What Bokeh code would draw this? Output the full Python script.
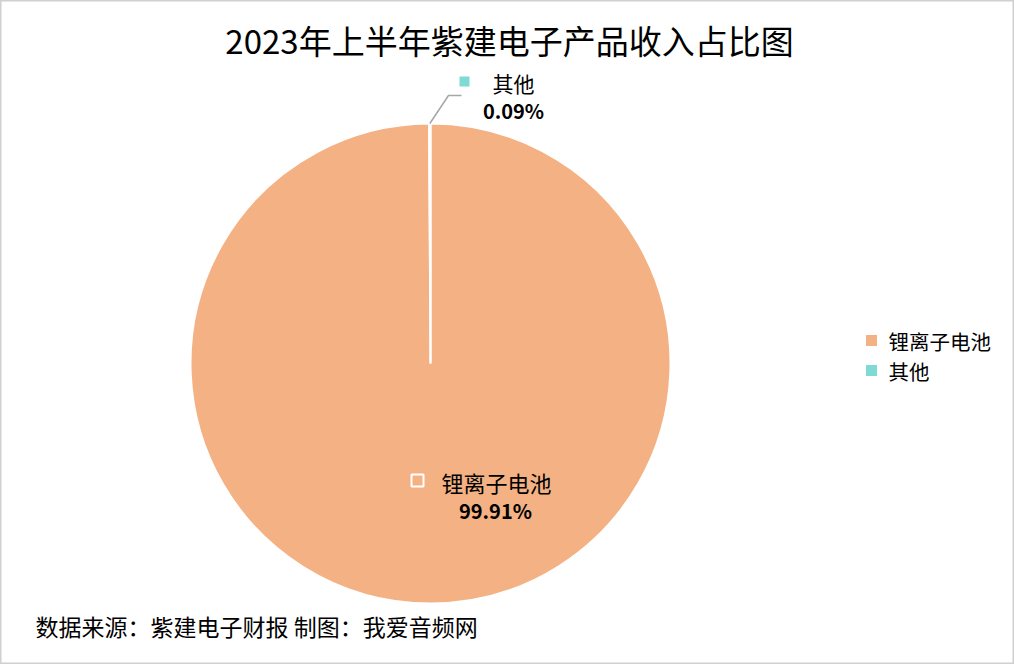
import math
from bokeh.plotting import figure
from bokeh.models import Range1d, ColumnDataSource
from bokeh.core.properties import value
from bokeh.embed import file_html
from bokeh.resources import INLINE

# ---- data ----
categories = ["锂离子电池", "其他"]
shares = [99.91, 0.09]
colors = ["#F4B183", "#7FD9D4"]
title_text = "2023年上半年紫建电子产品收入占比图"
source_text = "数据来源：紫建电子财报 制图：我爱音频网"

W, H = 1014, 664
FONT = "Noto Sans CJK SC"

def sy(y):  # screen y -> data y
    return H - y

p = figure(width=W, height=H, output_backend="svg", toolbar_location=None,
           x_range=Range1d(0, W), y_range=Range1d(0, H), min_border=0)
p.axis.visible = False
p.grid.visible = False
p.outline_line_color = "#D0D0D0"
p.outline_line_width = 2
p.background_fill_color = "white"
p.border_fill_color = "white"

# pie
cx, cy, R = 430, sy(363), 240
total = sum(shares)
starts, ends = [], []
a = math.pi / 2
for s in shares:
    starts.append(a)
    a = a - 2 * math.pi * s / total
    ends.append(a)
src = ColumnDataSource(dict(cat=categories, start=starts, end=ends, color=colors))
p.wedge(x=cx, y=cy, radius=R, radius_units="screen", start_angle="start", end_angle="end",
        direction="clock", fill_color="color", line_color="white", line_width=2, source=src)

# leader line for small slice
mid = (starts[1] + ends[1]) / 2
px0 = cx + R * math.cos(mid)
py0 = cy + R * math.sin(mid)
p.line(x=[px0, 448, 461], y=[py0, sy(95), sy(95)], line_color="#A6A6A6", line_width=1.5)

# data labels
p.scatter(x=[464], y=[sy(81)], marker="square", size=10, fill_color=colors[1], line_color=None)
p.text(x=[513], y=[sy(82)], text=[categories[1]], text_font=value(FONT), text_font_size="21px",
       text_align="center", text_baseline="middle", text_color="black")
p.text(x=[513], y=[sy(110)], text=["%.2f%%" % shares[1]], text_font=value(FONT), text_font_size="20px",
       text_font_style="bold", text_align="center", text_baseline="middle", text_color="black")

p.scatter(x=[417], y=[sy(480)], marker="square", size=12, fill_color=None, line_color="white", line_width=2)
p.text(x=[496], y=[sy(481)], text=[categories[0]], text_font=value(FONT), text_font_size="22px",
       text_align="center", text_baseline="middle", text_color="black")
p.text(x=[495], y=[sy(510)], text=["%.2f%%" % shares[0]], text_font=value(FONT), text_font_size="20px",
       text_font_style="bold", text_align="center", text_baseline="middle", text_color="black")

# legend
leg_y = [sy(340), sy(370)]
p.scatter(x=[871, 871], y=leg_y, marker="square", size=11, fill_color=colors, line_color=None)
p.text(x=[888, 888], y=leg_y, text=categories, text_font=value(FONT), text_font_size="20.5px",
       text_align="left", text_baseline="middle", text_color="black")

# title
p.text(x=[509], y=[sy(39)], text=[title_text], text_font=value(FONT), text_font_size="33px",
       text_align="center", text_baseline="middle", text_color="black")

# source
p.text(x=[35], y=[sy(625)], text=[source_text], text_font=value(FONT), text_font_size="23px",
       text_align="left", text_baseline="middle", text_color="black")

open("out.html", "w").write(file_html(p, INLINE))
